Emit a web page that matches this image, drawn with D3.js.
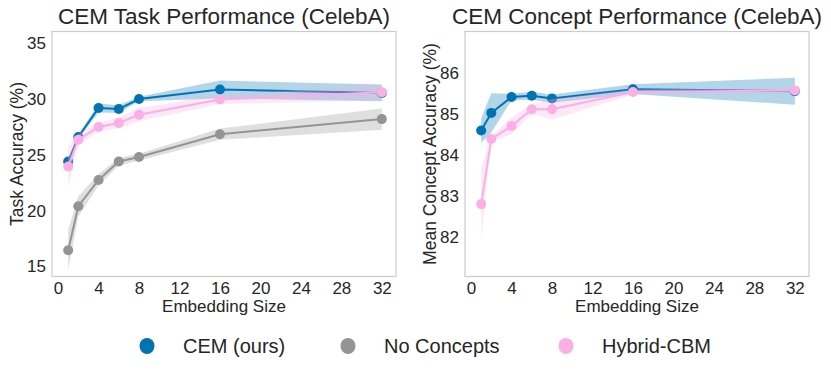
<!DOCTYPE html>
<html>
<head>
<meta charset="utf-8">
<script src="https://cdn.jsdelivr.net/npm/d3@7"></script>
<style>
  body { margin: 0; background: #fff; }
  svg text { font-family: "Liberation Sans", Arial, sans-serif; fill: #262626; }
</style>
</head>
<body>
<svg id="chart" width="831" height="372"></svg>
<script>
// embedding sizes (x values)
const sizes = [1, 2, 4, 6, 8, 16, 32];
const xTicks = [0, 4, 8, 12, 16, 20, 24, 28, 32];

// task accuracy (%) - mean and half band
const taskCem = [24.4, 26.6, 29.2, 29.1, 30.0, 30.85, 30.55];
const taskCemErr = [0.3, 0.2, 0.4, 0.35, 0.2, 0.8, 0.75];
const taskNone = [16.45, 20.4, 22.75, 24.4, 24.8, 26.85, 28.2];
const taskNoneErr = [1.8, 0.9, 0.5, 0.35, 0.3, 0.5, 0.95];
const taskHybrid = [23.95, 26.35, 27.5, 27.85, 28.6, 29.95, 30.6];
const taskHybridErr = [1.8, 0.5, 0.4, 0.5, 0.6, 0.4, 0.7];
const taskTicks = [15, 20, 25, 30, 35];

// mean concept accuracy (%)
const conceptCem = [84.6, 85.03, 85.42, 85.45, 85.38, 85.61, 85.56];
const conceptCemErr = [0.3, 0.48, 0.08, 0.1, 0.1, 0.12, 0.33];
const conceptHybrid = [82.8, 84.39, 84.71, 85.12, 85.12, 85.54, 85.58];
const conceptHybridErr = [0.85, 0.08, 0.2, 0.12, 0.25, 0.06, 0.06];
const conceptTicks = [82, 83, 84, 85, 86];

const legendNames = ['CEM (ours)', 'No Concepts', 'Hybrid-CBM'];
const colors = { cem: '#0173b2', none: '#949494', hybrid: '#fbafe4' };

const svg = d3.select('#chart');

function drawPanel(opts) {
	const left = opts.left, right = opts.right, top = 31.5, bottom = 276.5;
	const x = d3.scaleLinear().domain([-0.6, 33.4]).range([left, right]);
	const y = d3.scaleLinear().domain(opts.yDomain).range([bottom, top]);
	const g = svg.append('g');

	g.append('rect')
		.attr('x', left).attr('y', top)
		.attr('width', right - left).attr('height', bottom - top)
		.attr('fill', 'none').attr('stroke', '#cccccc').attr('stroke-width', 1.2);

	const xAxis = g.append('g')
		.attr('transform', 'translate(0,' + bottom + ')')
		.call(d3.axisBottom(x).tickValues(xTicks).tickSize(0).tickFormat(d3.format('d')));
	xAxis.select('.domain').remove();
	xAxis.selectAll('text').style('font-size', '17px').attr('y', 17.5).attr('dy', 0);

	const yAxis = g.append('g')
		.attr('transform', 'translate(' + left + ',0)')
		.call(d3.axisLeft(y).tickValues(opts.yTicks).tickSize(0).tickPadding(6).tickFormat(d3.format('d')));
	yAxis.select('.domain').remove();
	yAxis.selectAll('text').style('font-size', '17px');

	g.append('text')
		.attr('x', (left + right) / 2).attr('y', 24)
		.attr('text-anchor', 'middle')
		.style('font-size', '22.5px')
		.text(opts.title);

	g.append('text')
		.attr('x', (left + right) / 2).attr('y', 312)
		.attr('text-anchor', 'middle')
		.style('font-size', '17px')
		.text('Embedding Size');

	g.append('text')
		.attr('transform', 'translate(' + opts.yLabelX + ',' + (top + bottom) / 2 + ') rotate(-90)')
		.attr('text-anchor', 'middle')
		.style('font-size', '17.5px')
		.text(opts.yLabel);

	const area = d3.area()
		.x(d => x(d.x))
		.y0(d => y(d.y - d.e))
		.y1(d => y(d.y + d.e));
	const line = d3.line().x(d => x(d.x)).y(d => y(d.y));

	opts.series.forEach(s => {
		const pts = sizes.map((v, i) => ({ x: v, y: s.values[i], e: s.err[i] }));
		g.append('path')
			.attr('d', area(pts))
			.attr('fill', s.color).attr('fill-opacity', 0.3);
		g.append('path')
			.attr('d', line(pts))
			.attr('fill', 'none').attr('stroke', s.color).attr('stroke-width', 2);
		g.selectAll(null).data(pts).enter()
			.append('circle')
			.attr('cx', d => x(d.x)).attr('cy', d => y(d.y))
			.attr('r', 5).attr('fill', s.color);
	});
}

drawPanel({
	left: 52, right: 396,
	yDomain: [14.1, 36.05], yTicks: taskTicks,
	title: 'CEM Task Performance (CelebA)',
	yLabel: 'Task Accuracy (%)', yLabelX: 23,
	series: [
		{ values: taskCem, err: taskCemErr, color: colors.cem },
		{ values: taskNone, err: taskNoneErr, color: colors.none },
		{ values: taskHybrid, err: taskHybridErr, color: colors.hybrid }
	]
});

drawPanel({
	left: 465, right: 809,
	yDomain: [81.03, 87.02], yTicks: conceptTicks,
	title: 'CEM Concept Performance (CelebA)',
	yLabel: 'Mean Concept Accuracy (%)', yLabelX: 436,
	series: [
		{ values: conceptCem, err: conceptCemErr, color: colors.cem },
		{ values: conceptHybrid, err: conceptHybridErr, color: colors.hybrid }
	]
});

// legend
const legendX = [147, 348, 566];
const legendColors = [colors.cem, colors.none, colors.hybrid];
const legend = svg.append('g');
legendNames.forEach((name, i) => {
	legend.append('ellipse')
		.attr('cx', legendX[i]).attr('cy', 346)
		.attr('rx', 7.5).attr('ry', 8)
		.attr('fill', legendColors[i]);
	legend.append('text')
		.attr('x', legendX[i] + 36).attr('y', 346)
		.attr('dy', '0.35em')
		.style('font-size', '20px')
		.text(name);
});
</script>
</body>
</html>
